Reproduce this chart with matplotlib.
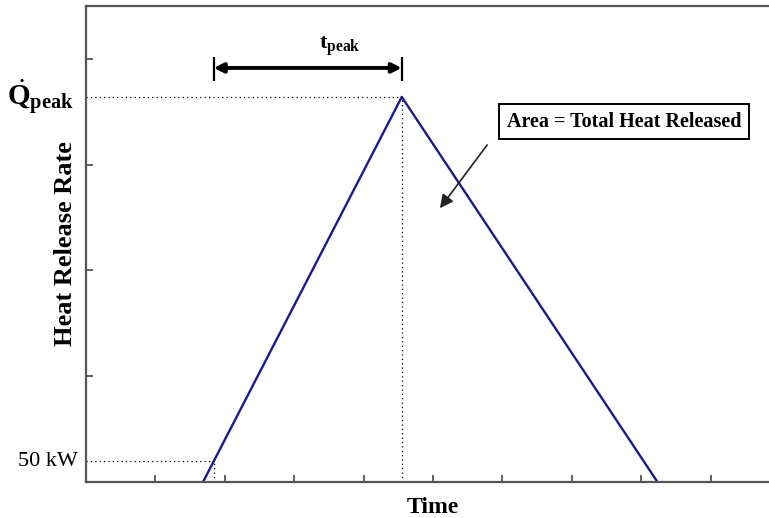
import matplotlib.pyplot as plt

plt.rcParams['font.family'] = ['Liberation Serif', 'DejaVu Serif']
plt.rcParams['mathtext.fontset'] = 'custom'
plt.rcParams['mathtext.rm'] = 'Liberation Serif'
plt.rcParams['mathtext.bf'] = 'Liberation Serif:bold'
plt.rcParams['mathtext.it'] = 'Liberation Serif:italic'

# triangular heat release curve (arbitrary units)
time = [1.69, 4.55, 8.23]
hrr = [0.0, 3.645, 0.0]

t_50kw = 1.84
q_50kw = 0.194
t_peak_pos = 4.55
q_peak = 3.645

x_ticks = [1, 2, 3, 4, 5, 6, 7, 8, 9]
y_ticks = [1, 2, 3, 4]

fig = plt.figure(figsize=(7.69, 5.18), dpi=100)
ax = fig.add_axes([86 / 769, 36.5 / 518, 694 / 769, 475.5 / 518])

ax.plot(time, hrr, color='#1a1a8a', lw=1.7)

# dotted guide lines
dots = dict(ls=(0, (1, 2.5)), color='black', lw=0.9)
ax.plot([0, t_peak_pos], [q_peak, q_peak], **dots)
ax.plot([t_peak_pos, t_peak_pos], [0, q_peak], **dots)
ax.plot([0, t_50kw], [q_50kw, q_50kw], **dots)
ax.plot([t_50kw, t_50kw], [0, q_50kw], **dots)

# t_peak dimension arrow
ax.annotate('', xy=(t_peak_pos, 3.92), xytext=(t_50kw, 3.92),
            arrowprops=dict(arrowstyle='<|-|>', color='black', lw=2.8,
                            mutation_scale=14, shrinkA=0, shrinkB=0))
ax.vlines([t_50kw, t_peak_pos], 3.80, 4.02, color='black', lw=1.6)
ax.text(3.66, 4.13, r'$\mathbf{t_{peak}}$', fontsize=16, ha='center', va='center')

# area annotation
ax.text(7.75, 3.41, 'Area = Total Heat Released', fontsize=14.5, fontweight='bold',
        ha='center', va='center',
        bbox=dict(boxstyle='square,pad=0.38', fc='white', ec='black', lw=1.4))
ax.annotate('', xy=(5.10, 2.59), xytext=(5.78, 3.19),
            arrowprops=dict(arrowstyle='-|>', color='#222222', lw=1.2,
                            mutation_scale=20, shrinkA=0, shrinkB=0))

# left-side labels
ax.text(-0.18, q_peak, r'$\dot{\mathbf{Q}}_{\mathbf{peak}}$', fontsize=21,
        ha='right', va='center', clip_on=False)
ax.text(-0.12, q_50kw, '50 kW', fontsize=16, ha='right', va='center', clip_on=False)

ax.set_xlim(0, 10)
ax.set_ylim(0, 4.507)
ax.set_xticks(x_ticks)
ax.set_yticks(y_ticks)
ax.set_xticklabels([])
ax.set_yticklabels([])
ax.tick_params(direction='in', length=5, width=1.2, colors='#444444')
for s in ax.spines.values():
    s.set_color('#555555')
    s.set_linewidth(1.6)
ax.spines['right'].set_visible(False)

ax.set_xlabel('Time', fontsize=17, fontweight='bold', labelpad=8)
ax.set_ylabel('Heat Release Rate', fontsize=19, fontweight='bold', labelpad=3)

fig.savefig('out.png', dpi=100)
